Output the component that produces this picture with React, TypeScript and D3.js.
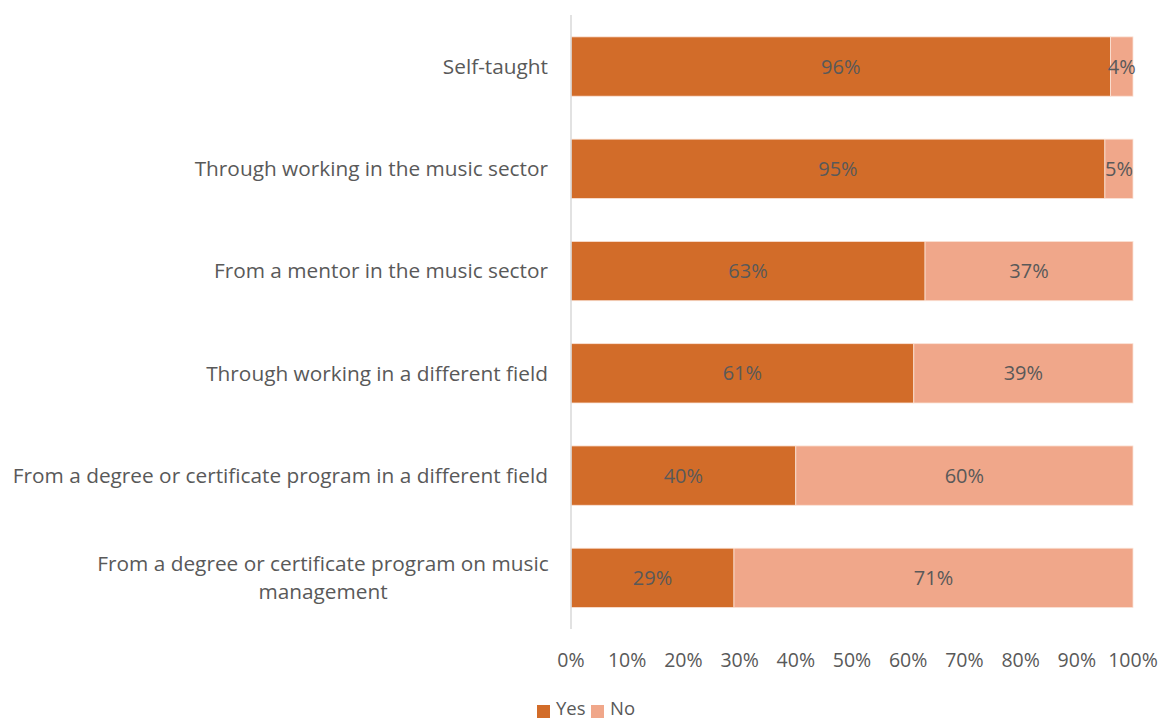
import React from "react";
import * as d3 from "d3";

const categories = [
  "Self-taught",
  "Through working in the music sector",
  "From a mentor in the music sector",
  "Through working in a different field",
  "From a degree or certificate program in a different field",
  "From a degree or certificate program on music management",
];
const categoryLines: string[][] = [
  ["Self-taught"],
  ["Through working in the music sector"],
  ["From a mentor in the music sector"],
  ["Through working in a different field"],
  ["From a degree or certificate program in a different field"],
  ["From a degree or certificate program on music", "management"],
];
const yesValues = [96, 95, 63, 61, 40, 29];
const noValues = [4, 5, 37, 39, 60, 71];
const xTicks = [0, 10, 20, 30, 40, 50, 60, 70, 80, 90, 100];
const seriesNames = ["Yes", "No"];
const colors = ["#D26C29", "#F0A78A"];

export default function App() {
  const W = 1160, H = 722;
  const x = d3.scaleLinear().domain([0, 100]).range([571, 1133]);
  const y = d3.scaleBand<number>().domain(d3.range(categories.length)).range([15.4, 629]).paddingInner(0.42).paddingOuter(0.21);
  const font = "'Open Sans', 'Noto Sans', sans-serif";
  const textColor = "#595959";
  const series = [yesValues, noValues];
  return (
    <svg width={W} height={H} style={{ position: "absolute", left: 0, top: 0, background: "#fff" }} fontFamily={font}>
      {categories.map((c, i) => {
        let start = 0;
        return series.map((vals, s) => {
          const v = vals[i];
          const x0 = x(start);
          const x1 = x(start + v);
          start += v;
          const yy = y(i)!;
          return (
            <g key={c + s}>
              <rect x={x0} y={yy} width={x1 - x0} height={y.bandwidth()} fill={colors[s]} stroke="#fbe3d6" strokeWidth={0.8} />
              <text x={(x0 + x1) / 2} y={yy + y.bandwidth() / 2} dy="0.35em" textAnchor="middle" fontSize={20} fill={textColor}>
                {v}%
              </text>
            </g>
          );
        });
      })}
      <line x1={571} x2={571} y1={15} y2={629} stroke="#d9d9d9" strokeWidth={1.5} />
      {categoryLines.map((lines, i) => {
        const cy = y(i)! + y.bandwidth() / 2;
        const lh = 28;
        const top = cy - ((lines.length - 1) * lh) / 2;
        return (
          <text key={i} fontSize={20.8} fill={textColor}>
            {lines.map((l, k) => (
              <tspan key={k} x={lines.length > 1 ? 323 : 548} y={top + k * lh} dy="0.35em" textAnchor={lines.length > 1 ? "middle" : "end"}>
                {l}
              </tspan>
            ))}
          </text>
        );
      })}
      {xTicks.map((t) => (
        <text key={t} x={x(t)} y={660} dy="0.35em" textAnchor="middle" fontSize={19.5} fill={textColor}>
          {t}%
        </text>
      ))}
      {seriesNames.map((n, i) => {
        const lx = i === 0 ? 537 : 591;
        return (
          <g key={n}>
            <rect x={lx} y={705} width={13} height={13} fill={colors[i]} />
            <text x={lx + 19} y={709} dy="0.35em" fontSize={18.5} fill={textColor}>
              {n}
            </text>
          </g>
        );
      })}
    </svg>
  );
}
